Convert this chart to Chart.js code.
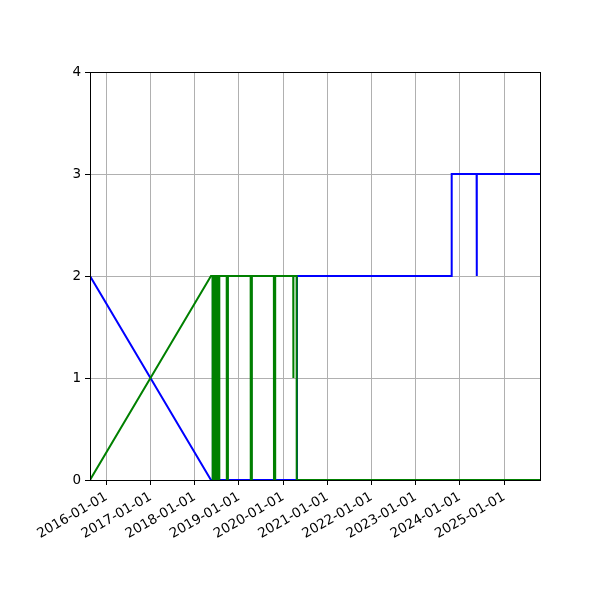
<!DOCTYPE html>
<html>
<head>
<meta charset="utf-8">
<script src="https://cdn.jsdelivr.net/npm/chart.js@4.4.1/dist/chart.umd.min.js"></script>
<style>
  html, body { margin: 0; padding: 0; background: #fff; }
  #wrap { width: 600px; height: 600px; }
</style>
</head>
<body>
<div id="wrap"><canvas id="chart" width="600" height="600"></canvas></div>
<script>
// green series (drawn on top)
const greenDates = [
  '2015-08-19', '2018-05-15',
  '2018-05-28', '2018-05-29', '2018-06-06', '2018-06-07',
  '2018-06-13', '2018-06-14', '2018-06-22', '2018-06-23',
  '2018-06-29', '2018-06-30', '2018-07-08', '2018-07-09',
  '2018-07-13', '2018-07-14', '2018-07-22', '2018-07-23',
  '2018-09-22', '2018-09-23', '2018-10-01', '2018-10-02',
  '2019-04-08', '2019-04-09', '2019-04-17', '2019-04-18',
  '2019-10-17', '2019-10-18', '2019-10-27', '2019-10-28',
  '2020-03-25', '2020-03-26', '2020-03-27',
  '2020-04-22', '2020-04-23', '2025-10-25'
];
const greenValues = [
  0, 2,
  2, 0, 0, 2,
  2, 0, 0, 2,
  2, 0, 0, 2,
  2, 0, 0, 2,
  2, 0, 0, 2,
  2, 0, 0, 2,
  2, 0, 0, 2,
  2, 1, 2,
  2, 0, 0
];

// blue series
const blueDates = [
  '2015-08-19', '2018-05-15',
  '2018-05-30', '2018-05-31', '2018-06-01',
  '2018-07-14', '2018-07-15', '2018-07-16',
  '2018-09-25', '2018-09-26', '2018-09-27',
  '2019-04-11', '2019-04-12', '2019-04-13',
  '2019-10-21', '2019-10-22', '2019-10-23',
  '2020-04-24', '2020-04-25',
  '2023-10-25', '2023-10-26',
  '2024-05-19', '2024-05-20', '2024-05-21',
  '2025-10-25'
];
const blueValues = [
  2, 0,
  0, 2, 0,
  0, 2, 0,
  0, 2, 0,
  0, 2, 0,
  0, 2, 0,
  0, 2,
  2, 3,
  3, 2, 3,
  3
];

const yearTicks = ['2016-01-01', '2017-01-01', '2018-01-01', '2019-01-01', '2020-01-01',
                   '2021-01-01', '2022-01-01', '2023-01-01', '2024-01-01', '2025-01-01'];
const yTicks = [0, 1, 2, 3, 4];

const xMin = '2015-08-19';
const xMax = '2025-10-25';

const ms = (s) => Date.parse(s + 'T00:00:00Z');
const toPoints = (dates, vals) => dates.map((d, i) => ({ x: ms(d), y: vals[i] }));
const fmtDate = (v) => new Date(v).toISOString().slice(0, 10);

// frame around the plot area (matplotlib style spines)
const framePlugin = {
  id: 'frame',
  afterDatasetsDraw(chart) {
    const { ctx, chartArea: a } = chart;
    ctx.save();
    ctx.strokeStyle = '#000';
    ctx.lineWidth = 1;
    ctx.strokeRect(a.left + 0.5, a.top + 0.5, a.right - a.left, a.bottom - a.top);
    ctx.restore();
  }
};

new Chart(document.getElementById('chart').getContext('2d'), {
  type: 'line',
  data: {
    datasets: [
      {
        data: toPoints(greenDates, greenValues),
        borderColor: '#008000',
        borderWidth: 2,
        pointRadius: 0,
        tension: 0,
        fill: false
      },
      {
        data: toPoints(blueDates, blueValues),
        borderColor: '#0000ff',
        borderWidth: 2,
        pointRadius: 0,
        tension: 0,
        fill: false
      }
    ]
  },
  options: {
    responsive: false,
    animation: false,
    devicePixelRatio: 1,
    layout: { padding: { left: 0, right: 60, top: 72, bottom: 0 } },
    plugins: { legend: { display: false }, tooltip: { enabled: false } },
    scales: {
      x: {
        type: 'linear',
        min: ms(xMin),
        max: ms(xMax),
        afterBuildTicks(axis) {
          axis.ticks = yearTicks.map(d => ({ value: ms(d) }));
        },
        afterFit(axis) { axis.height = 120; },
        grid: { color: '#b0b0b0', lineWidth: 1, tickColor: '#000', tickLength: 5 },
        border: { color: '#000', width: 1 },
        ticks: {
          color: '#000',
          font: { family: 'DejaVu Sans', size: 13.5 },
          minRotation: 30,
          maxRotation: 30,
          autoSkip: false,
          padding: 4,
          callback: (v) => fmtDate(v)
        }
      },
      y: {
        min: 0,
        max: 4,
        afterBuildTicks(axis) {
          axis.ticks = yTicks.map(v => ({ value: v }));
        },
        afterFit(axis) { axis.width = 90; },
        grid: { color: '#b0b0b0', lineWidth: 1, tickColor: '#000', tickLength: 5 },
        border: { color: '#000', width: 1 },
        ticks: {
          color: '#000',
          font: { family: 'DejaVu Sans', size: 13.5 },
          padding: 4
        }
      }
    }
  },
  plugins: [framePlugin]
});
</script>
</body>
</html>
